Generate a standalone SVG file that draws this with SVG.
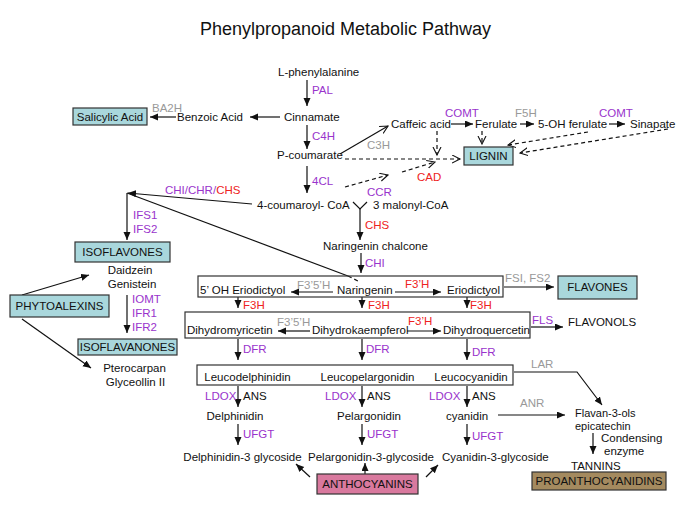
<svg xmlns="http://www.w3.org/2000/svg" width="685" height="511" viewBox="0 0 685 511">
<defs>
<style>
text{font-family:"Liberation Sans",Arial,sans-serif;font-size:11.5px;fill:#111}
.title{font-size:18px}
.p{fill:#9933cc}
.r{fill:#ee2222}
.g{fill:#999}
.m{text-anchor:middle}
.sm{font-size:11px}
.ln{stroke:#111;stroke-width:1.2;fill:none}
.fa{marker-end:url(#fa)}
.oa{marker-end:url(#oa)}
.ds{stroke-dasharray:4 3}
.box{stroke:#333;stroke-width:1.2}
.frame{fill:none;stroke:#333;stroke-width:1.2}
.teal{fill:#a9d7dc}
</style>
<marker id="fa" markerUnits="userSpaceOnUse" markerWidth="9" markerHeight="8" refX="8" refY="3.5" orient="auto">
<path d="M0,0 L8,3.5 L0,7 z" fill="#111"/>
</marker>
<marker id="oa" markerUnits="userSpaceOnUse" markerWidth="10" markerHeight="10" refX="8" refY="4.5" orient="auto">
<path d="M0,0.5 L8,4.5 L0,8.5" fill="none" stroke="#111" stroke-width="1.1"/>
</marker>
</defs>
<rect width="685" height="511" fill="#fff"/>
<text class="title m" x="345.5" y="35">Phenylpropanoid Metabolic Pathway</text>

<g id="connectors">
<line class="ln fa" x1="307" y1="80" x2="307" y2="106"/>
<line class="ln fa" x1="280" y1="117" x2="250" y2="117"/>
<line class="ln fa" x1="176" y1="117" x2="150" y2="117"/>
<line class="ln fa" x1="307" y1="125" x2="307" y2="149"/>
<line class="ln fa" x1="307" y1="166" x2="307" y2="193"/>
<line class="ln oa" x1="340" y1="154" x2="388" y2="126"/>
<line class="ln ds oa" x1="345" y1="159" x2="460" y2="159"/>
<line class="ln fa" x1="451" y1="124" x2="473" y2="124"/>
<line class="ln fa" x1="520" y1="124" x2="534" y2="124"/>
<line class="ln fa" x1="609" y1="124" x2="625" y2="124"/>
<line class="ln ds oa" x1="437" y1="131" x2="437" y2="155"/>
<line class="ln ds oa" x1="482" y1="131" x2="482" y2="144"/>
<line class="ln ds oa" x1="588" y1="132" x2="508" y2="145"/>
<line class="ln ds oa" x1="668" y1="129" x2="520" y2="153"/>
<line class="ln ds oa" x1="345" y1="187" x2="388" y2="175"/>
<line class="ln ds oa" x1="402" y1="172" x2="435" y2="162"/>
<line class="ln fa" x1="252" y1="204" x2="128" y2="193"/>
<polyline class="ln" points="353,202 360,209 367,202"/>
<line class="ln fa" x1="360" y1="209" x2="360" y2="240"/>
<line class="ln fa" x1="361" y1="253" x2="361" y2="273"/>
<line class="ln fa" x1="127" y1="193" x2="127" y2="240"/>
<line class="ln" x1="127" y1="193" x2="348" y2="276"/>
<line class="ln ds" x1="348" y1="276" x2="360" y2="282"/>
<line class="ln fa" x1="22" y1="295" x2="89" y2="275"/>
<line class="ln fa" x1="22" y1="319" x2="91" y2="368"/>
<line class="ln fa" x1="127" y1="295" x2="127" y2="333"/>
<line class="ln fa" x1="333" y1="292" x2="291" y2="292"/>
<line class="ln fa" x1="395" y1="292" x2="441" y2="292"/>
<line class="ln fa" x1="238" y1="297" x2="238" y2="308"/>
<line class="ln fa" x1="362" y1="297" x2="362" y2="308"/>
<line class="ln fa" x1="467" y1="297" x2="467" y2="308"/>
<line class="ln fa" x1="310" y1="331" x2="278" y2="331"/>
<line class="ln fa" x1="407" y1="331" x2="441" y2="331"/>
<line class="ln fa" x1="504" y1="287" x2="554" y2="287"/>
<line class="ln fa" x1="531" y1="327" x2="563" y2="327"/>
<line class="ln fa" x1="238" y1="339" x2="238" y2="360"/>
<line class="ln fa" x1="362" y1="339" x2="362" y2="360"/>
<line class="ln fa" x1="467" y1="339" x2="467" y2="360"/>
<line class="ln fa" x1="238" y1="386" x2="238" y2="407"/>
<line class="ln fa" x1="362" y1="386" x2="362" y2="407"/>
<line class="ln fa" x1="467" y1="386" x2="467" y2="407"/>
<line class="ln fa" x1="238" y1="424" x2="238" y2="445"/>
<line class="ln fa" x1="362" y1="424" x2="362" y2="445"/>
<line class="ln fa" x1="467" y1="424" x2="467" y2="445"/>
<line class="ln fa" x1="310" y1="477" x2="296" y2="464"/>
<line class="ln fa" x1="365" y1="474" x2="365" y2="463"/>
<line class="ln fa" x1="426" y1="477" x2="438" y2="465"/>
<polyline class="ln fa" points="514,372 577,372 602,405"/>
<line class="ln fa" x1="498" y1="415" x2="565" y2="415"/>
<line class="ln fa" x1="593" y1="433" x2="593" y2="454"/>
</g>

<g id="enzymes">
<text class="p" x="312" y="94">PAL</text>
<text class="p" x="312" y="140">C4H</text>
<text class="p" x="312" y="185">4CL</text>
<text class="g" x="152" y="112">BA2H</text>
<text class="g" x="367" y="149">C3H</text>
<text class="p" x="445" y="117">COMT</text>
<text class="g" x="515" y="117">F5H</text>
<text class="p" x="599" y="117">COMT</text>
<text class="p" x="367" y="196">CCR</text>
<text class="r" x="417" y="181">CAD</text>
<text class="r" x="365" y="229">CHS</text>
<text class="p" x="365" y="267">CHI</text>
<text x="165" y="194"><tspan class="p">CHI/</tspan><tspan class="p">CHR/</tspan><tspan class="r">CHS</tspan></text>
<text class="p" x="133" y="219">IFS1</text>
<text class="p" x="133" y="233">IFS2</text>
<text class="p" x="132" y="303">IOMT</text>
<text class="p" x="132" y="317">IFR1</text>
<text class="p" x="132" y="331">IFR2</text>
<text class="g" x="297" y="289">F3’5’H</text>
<text class="r" x="405" y="288">F3’H</text>
<text class="r" x="243" y="309">F3H</text>
<text class="r" x="368" y="309">F3H</text>
<text class="r" x="470" y="309">F3H</text>
<text class="g" x="277" y="326">F3’5’H</text>
<text class="r" x="408" y="325">F3’H</text>
<text class="g" x="505" y="282">FSI, FS2</text>
<text class="p" x="532" y="324">FLS</text>
<text class="p" x="243" y="353">DFR</text>
<text class="p" x="366" y="353">DFR</text>
<text class="p" x="472" y="356">DFR</text>
<text class="p" x="205" y="400">LDOX</text>
<text x="243" y="400">ANS</text>
<text class="p" x="325" y="400">LDOX</text>
<text x="367" y="400">ANS</text>
<text class="p" x="429" y="400">LDOX</text>
<text x="472" y="400">ANS</text>
<text class="p" x="243" y="438">UFGT</text>
<text class="p" x="367" y="438">UFGT</text>
<text class="p" x="472" y="440">UFGT</text>
<text class="g" x="531" y="368">LAR</text>
<text class="g" x="520" y="407">ANR</text>
</g>

<g id="n-phenylalanine"><text x="278" y="76">L-phenylalanine</text></g>
<g id="n-cinnamate"><text x="284" y="121">Cinnamate</text></g>
<g id="n-benzoic"><text x="177" y="121">Benzoic Acid</text></g>
<g id="n-salicylic"><rect class="box teal" x="73" y="108" width="74" height="17"/><text class="m" x="110" y="121">Salicylic Acid</text></g>
<g id="n-pcoumarate"><text x="277" y="159">P-coumarate</text></g>
<g id="n-caffeic"><text x="391" y="128">Caffeic acid</text></g>
<g id="n-ferulate"><text x="475" y="128">Ferulate</text></g>
<g id="n-5ohferulate"><text x="538" y="128">5-OH ferulate</text></g>
<g id="n-sinapate"><text x="630" y="128">Sinapate</text></g>
<g id="n-lignin"><rect class="box teal" x="464" y="147" width="49" height="18"/><text class="m" x="488.5" y="160">LIGNIN</text></g>
<g id="n-coumaroylcoa"><text x="257" y="209">4-coumaroyl- CoA</text></g>
<g id="n-malonyl"><text x="373" y="209">3 malonyl-CoA</text></g>
<g id="n-chalcone"><text x="323" y="250">Naringenin chalcone</text></g>
<g id="n-isoflavones"><rect class="box teal" x="75" y="242" width="95" height="20"/><text class="m" x="122.5" y="256">ISOFLAVONES</text></g>
<g id="n-daidzein"><text class="m" x="130" y="274">Daidzein</text><text class="m" x="132" y="288">Genistein</text></g>
<g id="n-phytoalexins"><rect class="box teal" x="10" y="295" width="99" height="22"/><text class="m" x="59.5" y="310">PHYTOALEXINS</text></g>
<g id="n-isoflavanones"><rect class="box teal" x="78" y="339" width="99" height="16"/><text class="m" x="127.5" y="351">ISOFLAVANONES</text></g>
<g id="n-pterocarpan"><text class="m" x="134.5" y="372">Pterocarpan</text><text class="m" x="135.5" y="386">Glyceollin II</text></g>
<g id="n-naringenin-row">
<rect class="frame" x="198" y="276" width="305" height="21"/>
<text x="200" y="294">5’ OH Eriodictyol</text>
<text x="337" y="294">Naringenin</text>
<text x="447" y="294">Eriodictyol</text>
</g>
<g id="n-flavones"><rect class="box teal" x="558" y="276" width="79" height="23"/><text class="m" x="597.5" y="291">FLAVONES</text></g>
<g id="n-dihydro-row">
<rect class="frame" x="185" y="312" width="345" height="26"/>
<text x="187" y="334">Dihydromyricetin</text>
<text x="312" y="334">Dihydrokaempferol</text>
<text x="443" y="334">Dihydroquercetin</text>
</g>
<g id="n-flavonols"><text x="568" y="326">FLAVONOLS</text></g>
<g id="n-leuco-row">
<rect class="frame" x="197" y="365" width="316" height="20"/>
<text class="m" x="247.5" y="381">Leucodelphinidin</text>
<text class="m" x="367.5" y="381">Leucopelargonidin</text>
<text class="m" x="471" y="381">Leucocyanidin</text>
</g>
<g id="n-delphinidin"><text class="m" x="235" y="420">Delphinidin</text></g>
<g id="n-pelargonidin"><text class="m" x="369" y="420">Pelargonidin</text></g>
<g id="n-cyanidin"><text class="m" x="467" y="420">cyanidin</text></g>
<g id="n-delph-glc"><text class="m" x="242.5" y="461">Delphinidin-3 glycoside</text></g>
<g id="n-pelarg-glc"><text class="m" x="371" y="461">Pelargonidin-3-glycoside</text></g>
<g id="n-cyan-glc"><text x="442" y="461">Cyanidin-3-glycoside</text></g>
<g id="n-anthocyanins"><rect class="box" fill="#d9799e" x="317" y="474" width="101" height="20"/><text class="m" x="367.5" y="488">ANTHOCYANINS</text></g>
<g id="n-flavan"><text class="sm" x="575" y="417">Flavan-3-ols</text><text class="sm" x="575" y="430">epicatechin</text></g>
<g id="n-condensing"><text x="601" y="442">Condensing</text><text x="604" y="455">enzyme</text></g>
<g id="n-tannins"><text x="571" y="470">TANNINS</text></g>
<g id="n-proantho"><rect class="box" fill="#a48a5f" x="532" y="472" width="134" height="18"/><text class="m" x="599" y="485">PROANTHOCYANIDINS</text></g>
</svg>
